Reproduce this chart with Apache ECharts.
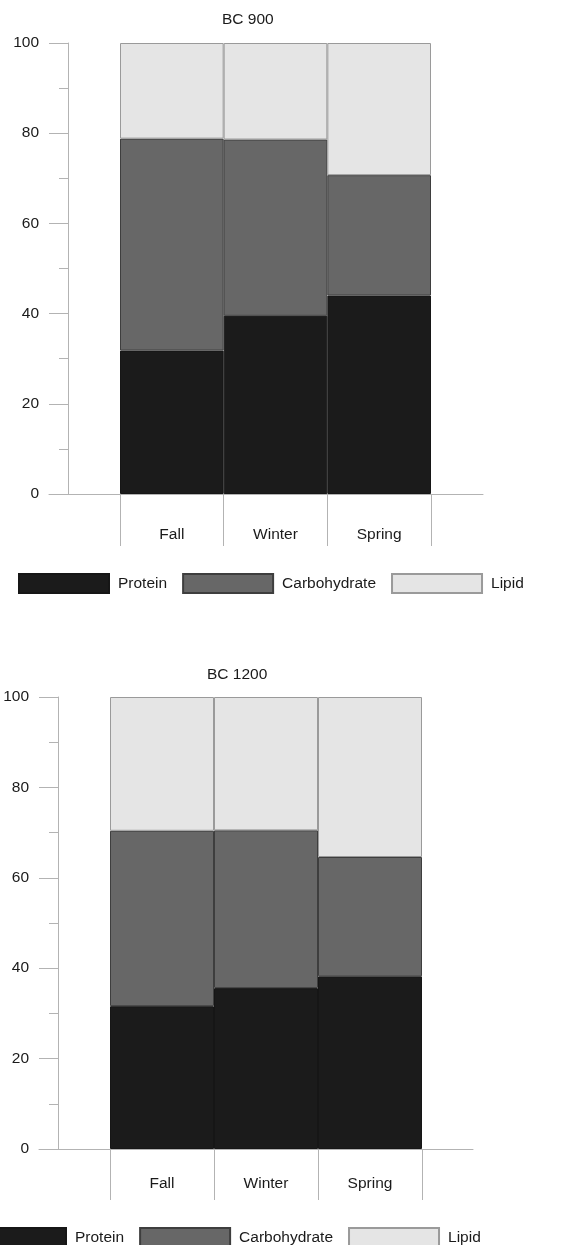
<!DOCTYPE html>
<html>
<head>
<meta charset="utf-8">
<title>BC 900 / BC 1200 diet composition</title>
<script src="https://cdn.jsdelivr.net/npm/echarts@6/dist/echarts.min.js"></script>
<style>
  html, body { margin: 0; padding: 0; background: #ffffff; }
  #chart { width: 568px; height: 1245px; }
</style>
</head>
<body>
<div id="chart"></div>
<script>
// Seasonal diet composition (%) for two periods
const seasons = ['Fall', 'Winter', 'Spring'];
const panelTitles = ['BC 900', 'BC 1200'];

const protein900 = [31.8, 39.5, 44.0];
const carb900    = [47.0, 39.1, 26.7];
const lipid900   = [21.2, 21.4, 29.3];

const protein1200 = [31.6, 35.6, 38.2];
const carb1200    = [38.8, 34.9, 26.4];
const lipid1200   = [29.6, 29.5, 35.4];

const yTicks = { min: 0, max: 100, interval: 20 };

const FONT = "'Liberation Sans', Arial, Helvetica, sans-serif";
const AXIS_GREY = '#b3b3b3';
const TEXT = '#1a1a1a';

const parts = [
  { name: 'Protein',      color: '#1b1b1b', border: '#161616' },
  { name: 'Carbohydrate', color: '#676767', border: '#3e3e3e' },
  { name: 'Lipid',        color: '#e5e5e5', border: '#9a9a9a' }
];

// Panel placement: bar grid, wider baseline grid, title and legend anchors
const panels = [
  { values: [protein900, carb900, lipid900],
    grid: { left: 120, top: 43, width: 311, height: 451 },
    base: { left: 49, top: 43, width: 434, height: 451 },
    titleLeft: 222, titleTop: 12, labelMargin: 33, tickLen: 52,
    legendLeft: 18, legendTop: 573 },
  { values: [protein1200, carb1200, lipid1200],
    grid: { left: 110, top: 697, width: 312, height: 452 },
    base: { left: 39, top: 697, width: 434, height: 452 },
    titleLeft: 207, titleTop: 667, labelMargin: 27, tickLen: 51,
    legendLeft: -25, legendTop: 1227 }
];

const grid = [], xAxis = [], yAxis = [], series = [], title = [], legend = [];

panels.forEach((p, i) => {
  const gi = grid.length;
  grid.push(Object.assign({ containLabel: false }, p.grid));
  grid.push(Object.assign({ containLabel: false }, p.base));

  // category axis: boundary ticks drawn long, acting as column separators
  xAxis.push({
    type: 'category', gridIndex: gi, data: seasons,
    axisLine: { show: false },
    axisTick: { show: true, length: p.tickLen, alignWithLabel: false,
                lineStyle: { color: AXIS_GREY, width: 1 } },
    axisLabel: { margin: p.labelMargin, color: TEXT, fontSize: 15.5, fontFamily: FONT }
  });
  // baseline running beyond the bars
  xAxis.push({
    type: 'value', gridIndex: gi + 1, min: 0, max: 1,
    axisLine: { show: true, onZero: false, lineStyle: { color: AXIS_GREY, width: 1 } },
    axisTick: { show: false }, axisLabel: { show: false }, splitLine: { show: false }
  });

  yAxis.push({
    type: 'value', gridIndex: gi, min: yTicks.min, max: yTicks.max, interval: yTicks.interval,
    offset: 52,
    axisLine: { show: true, lineStyle: { color: AXIS_GREY, width: 1 } },
    axisTick: { show: true, length: 19, lineStyle: { color: AXIS_GREY, width: 1 } },
    minorTick: { show: true, splitNumber: 2, length: 9, lineStyle: { color: AXIS_GREY, width: 1 } },
    splitLine: { show: false },
    axisLabel: { margin: 29, color: TEXT, fontSize: 15.5, fontFamily: FONT }
  });
  yAxis.push({ type: 'value', gridIndex: gi + 1, show: false, min: 0, max: 1 });

  parts.forEach((part, k) => {
    series.push({
      name: part.name, type: 'bar', stack: 'total' + i,
      xAxisIndex: gi, yAxisIndex: gi,
      barWidth: '100%', barGap: '0%', barCategoryGap: '0%',
      data: p.values[k],
      itemStyle: { color: part.color, borderColor: part.border, borderWidth: 1 },
      emphasis: { disabled: true },
      silent: true
    });
  });

  title.push({
    text: panelTitles[i], left: p.titleLeft, top: p.titleTop, padding: 0,
    textStyle: { color: TEXT, fontSize: 15.5, fontWeight: 'normal', fontFamily: FONT }
  });

  legend.push({
    data: parts.map(pt => pt.name),
    left: p.legendLeft, top: p.legendTop, padding: 0,
    orient: 'horizontal', icon: 'rect',
    itemWidth: 90, itemHeight: 19, itemGap: 15,
    selectedMode: false,
    textStyle: { color: TEXT, fontSize: 15.5, fontFamily: FONT, padding: [0, 0, 0, 4] }
  });
});

const chart = echarts.init(document.getElementById('chart'), null, { renderer: 'canvas' });
chart.setOption({
  animation: false,
  backgroundColor: '#ffffff',
  title, legend, grid, xAxis, yAxis, series,
  tooltip: { show: false }
});
</script>
</body>
</html>
